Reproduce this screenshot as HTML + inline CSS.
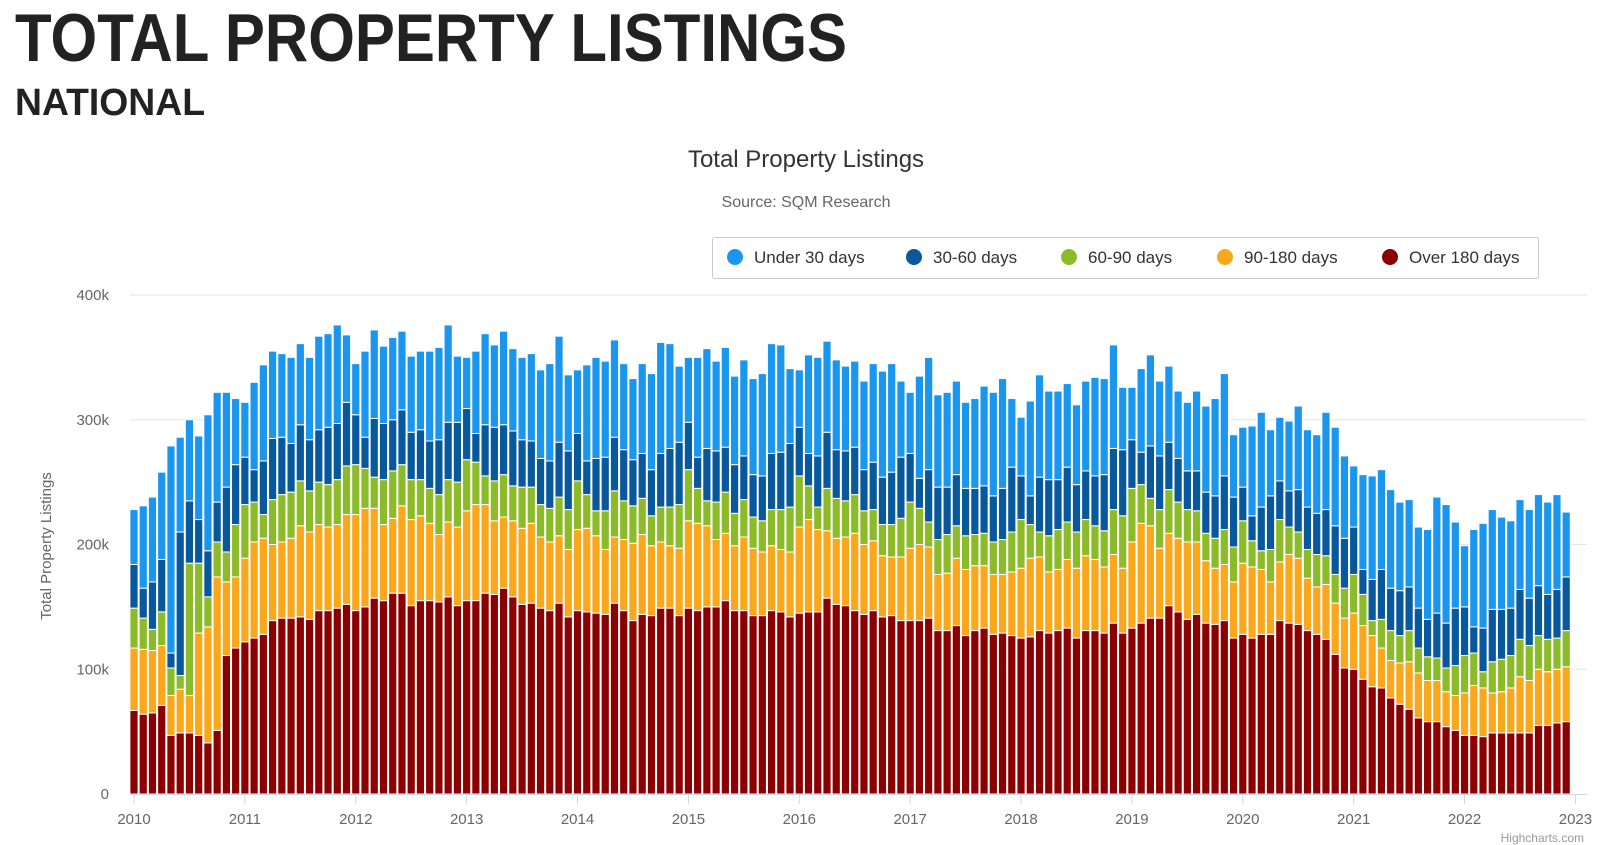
<!DOCTYPE html>
<html><head><meta charset="utf-8"><title>Total Property Listings</title>
<style>
html,body{margin:0;padding:0;background:#fff;}
svg{display:block;font-family:"Liberation Sans",sans-serif;}
</style></head>
<body>
<svg id="chart" width="1600" height="845" viewBox="0 0 1600 845">
  <text x="15" y="61" font-size="68" font-weight="bold" fill="#222" textLength="832" lengthAdjust="spacingAndGlyphs">TOTAL PROPERTY LISTINGS</text>
  <text x="15" y="115" font-size="38" font-weight="bold" fill="#222" textLength="190" lengthAdjust="spacingAndGlyphs">NATIONAL</text>
  <text x="806" y="167" font-size="24" fill="#333" text-anchor="middle">Total Property Listings</text>
  <text x="806" y="207" font-size="16" fill="#666" text-anchor="middle">Source: SQM Research</text>
  <g id="legend">
    <rect x="712.5" y="237.5" width="826" height="41" fill="#fff" stroke="#cccccc" stroke-width="1" rx="2"/>
  </g>
  <g id="grid"></g>
  <g id="bars"></g>
  <g id="xaxis"></g>
  <text transform="translate(51,546) rotate(-90)" font-size="15" fill="#666" text-anchor="middle">Total Property Listings</text>
  <text x="1584" y="842" font-size="12" fill="#999" text-anchor="end">Highcharts.com</text>
</svg>
<script>
// Monthly values (thousands), Jan 2010 .. Dec 2022
const over180 = [67,64,65,71,47,49,49,47,41,51,111,117,122,125,128,139,141,141,142,140,147,147,149,152,147,150,157,155,161,161,151,155,155,154,158,151,155,155,161,160,165,158,152,153,149,147,153,142,147,146,145,144,153,147,139,144,143,149,149,143,149,147,150,150,155,147,147,143,143,147,146,142,145,146,146,157,152,151,147,144,147,142,143,139,139,139,141,131,131,135,127,131,133,128,129,127,125,126,131,129,131,133,125,131,131,129,137,129,133,137,141,141,151,146,140,144,137,136,139,125,128,125,128,128,139,137,136,131,128,124,112,101,100,92,86,85,77,72,68,61,58,58,54,51,47,47,46,49,49,49,49,49,55,55,57,58];
const d90to180 = [50,52,50,48,32,35,30,82,93,123,59,57,67,77,77,61,61,64,73,70,69,67,67,72,77,79,72,61,60,70,69,68,62,54,60,63,72,77,71,59,57,61,61,64,57,55,54,54,65,67,62,52,53,57,62,64,56,53,50,54,70,70,65,54,54,52,59,54,51,52,50,52,69,74,66,54,53,55,62,56,56,49,47,51,58,61,57,45,46,54,53,52,50,48,47,51,56,63,59,49,49,55,56,60,57,53,55,52,69,80,74,56,58,59,62,58,50,45,45,45,57,57,52,42,47,55,53,42,38,44,41,40,45,43,41,32,30,33,38,36,33,33,28,28,34,40,39,32,33,36,45,42,45,43,43,44];
const d60to90 = [32,25,17,27,22,11,106,56,24,28,24,42,43,32,19,36,38,37,36,33,34,34,36,39,40,32,25,36,38,33,32,29,28,32,34,36,41,34,23,32,34,28,33,29,26,27,31,32,39,27,20,31,37,31,30,29,24,28,31,35,41,28,20,30,33,26,30,25,25,29,32,36,41,27,18,34,32,29,31,27,25,25,26,31,37,29,20,28,31,26,27,25,26,26,28,32,39,27,20,29,32,30,29,29,27,29,36,42,43,31,22,31,35,29,26,25,22,24,28,28,34,21,15,26,34,22,21,23,26,23,23,24,31,25,12,23,24,22,25,20,19,18,19,24,30,26,13,25,26,26,30,28,27,26,25,29];
const d30to60 = [35,24,38,42,12,115,50,35,37,32,52,48,38,26,43,49,46,39,45,41,42,46,45,51,40,25,47,45,41,44,38,40,38,44,46,48,41,23,41,43,40,44,38,37,37,38,44,47,38,27,42,43,43,41,37,36,37,43,47,50,38,25,42,41,36,39,35,34,36,45,46,51,39,26,41,45,39,40,38,33,38,38,42,49,39,24,42,42,38,41,38,37,38,37,41,52,35,23,44,45,40,44,38,39,40,45,49,53,39,26,42,43,38,35,31,32,33,34,43,40,27,20,35,43,31,29,34,34,33,37,39,40,38,20,33,40,34,36,35,32,30,36,36,46,39,21,35,42,40,38,40,38,40,36,39,43];
const under30 = [44,66,68,70,166,76,65,67,109,88,76,53,44,70,77,70,67,69,65,66,75,75,79,54,41,69,71,62,66,63,61,63,72,74,78,53,41,66,73,66,75,66,66,70,71,78,85,61,51,77,81,77,78,69,65,72,77,89,84,61,52,80,80,72,80,71,77,77,82,88,86,60,46,79,79,73,72,68,69,71,79,85,87,61,49,82,90,74,76,75,69,72,80,83,88,55,47,76,82,71,71,67,64,72,79,77,83,50,42,67,73,60,61,54,55,64,69,78,82,50,48,72,76,53,51,56,67,62,63,78,79,66,49,76,83,80,79,71,70,65,72,93,95,69,49,78,84,80,74,70,72,71,73,74,76,52];
const seriesNames = ["Under 30 days","30-60 days","60-90 days","90-180 days","Over 180 days"];
const yTicks = [0,100,200,300,400];
const yTickLabels = ["0","100k","200k","300k","400k"];
const xYears = [2010,2011,2012,2013,2014,2015,2016,2017,2018,2019,2020,2021,2022,2023];

const NS = "http://www.w3.org/2000/svg";
const colors = ["#1b96ee","#08589c","#8cbb2a","#fba71c","#8b0000"];
const X0 = 134, MONTH = 9.24, Y0 = 794, PXK = 1.2475;
function xScale(monthIndex){ return X0 + monthIndex*MONTH; }
function yScale(v){ return Y0 - v*PXK; }
function mk(tag, attrs, parent){ const e=document.createElementNS(NS,tag); for(const k in attrs) e.setAttribute(k,attrs[k]); parent.appendChild(e); return e; }

const grid = document.getElementById('grid');
yTicks.forEach((t,i)=>{
  if(t>0){
    const l = mk('line',{x1:130,x2:1587,y1:yScale(t),y2:yScale(t),stroke:'#e6e6e6','stroke-width':1},grid);
    
    
  }
  const tx = mk('text',{x:109,y:yScale(t)+5,'font-size':15,fill:'#666','text-anchor':'end'},grid);
  tx.textContent = yTickLabels[i];
  
  
});

const barsG = document.getElementById('bars');
const stackOrder = [over180,d90to180,d60to90,d30to60,under30];
const stackColors = [colors[4],colors[3],colors[2],colors[1],colors[0]];
const segNames = ['over-180','90-180','60-90','30-60','under-30'];
for(let m=0;m<over180.length;m++){
  let base=0;
  const cx = xScale(m);
  for(let s=0;s<stackOrder.length;s++){
    const v = stackOrder[s][m];
    const r = mk('rect',{x:cx-4.1,y:yScale(base+v),width:8.2,height:v*PXK,fill:stackColors[s],stroke:'#fff','stroke-width':1},barsG);
    
    
    base+=v;
  }
}

const xa = document.getElementById('xaxis');
const axl = mk('line',{x1:130,x2:1587,y1:Y0+0.5,y2:Y0+0.5,stroke:'#ccd6eb','stroke-width':1},xa);


xYears.forEach((yr,i)=>{
  const x = xScale(i*12);
  const tk = mk('line',{x1:x,x2:x,y1:Y0,y2:Y0+10,stroke:'#ccd6eb','stroke-width':1},xa);
  
  
  const t = mk('text',{x:x,y:824,'font-size':15,fill:'#666','text-anchor':'middle'},xa);
  t.textContent = yr;
  
  
});

const lg = document.getElementById('legend');
const lgCircleX = [735,914,1069,1225,1390];
seriesNames.forEach((n,i)=>{
  const g = mk('g',{},lg);
  
  
  mk('circle',{cx:lgCircleX[i],cy:257,r:8,fill:colors[i]},g);
  const t = mk('text',{x:lgCircleX[i]+19,y:263,'font-size':17,fill:'#333'},g);
  t.textContent = n;
});
</script>
</body></html>
